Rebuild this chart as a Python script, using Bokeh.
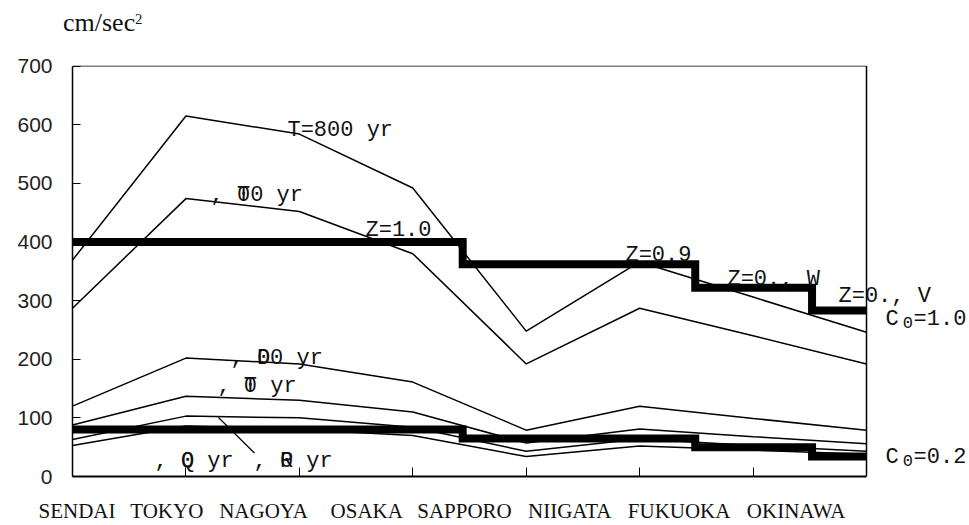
from bokeh.plotting import figure
from bokeh.models import Range1d, FixedTicker, Label, Div
from bokeh.layouts import column
from bokeh.embed import file_html
from bokeh.resources import INLINE

# --- data -----------------------------------------------------------------
cities = ["SENDAI", "TOKYO", "NAGOYA", "OSAKA", "SAPPORO", "NIIGATA", "FUKUOKA", "OKINAWA"]

# peak ground acceleration (cm/sec^2) for several return periods
pga_t800 = [369, 615, 584, 492, 248, 366, 306, 246]
pga_t500 = [287, 474, 452, 380, 192, 287, 240, 192]
pga_t100 = [120, 202, 192, 161, 79, 120, 99, 79]
pga_t50 = [88, 137, 130, 110, 57, 81, 68, 56]
pga_t20 = [63, 103, 100, 84, 43, 64, 53, 43]
pga_t10 = [53, 86, 80, 70, 34, 52, 45, 38]

# seismic zone factor levels (C0 = 1.0 and C0 = 0.2) and zone borders
zone_edges = [0, 3.44, 5.49, 6.52, 7]
zone_c10 = [400, 362, 322, 283]
zone_c02 = [80, 65, 50, 34]

y_ticks = [0, 100, 200, 300, 400, 500, 600, 700]

# --- layout constants ---------------------------------------------------------
X_MAX = 7            # last city
Y_MAX = 700          # top of the value scale
X_VIEW = 7.908       # extra room on the right for the C0 labels
Y_VIEW = 701         # keeps the grey top edge fully inside the frame
city_label_x = [0.040, 0.831, 1.684, 2.594, 3.456, 4.384, 5.348, 6.380]

# --- unit heading ------------------------------------------------------------
unit = Div(
    text=('<div style="margin:0;padding:8px 0 0 63px;font-family:\'Liberation Serif\';'
          'font-size:26px;line-height:30px;color:#111111;white-space:nowrap">'
          'cm/sec<span style="font-size:14px;vertical-align:7px;line-height:0">2</span></div>'),
    width=969, height=50, margin=0)

# --- figure ---------------------------------------------------------------
p = figure(width=969, height=475, x_range=Range1d(0, X_VIEW), y_range=Range1d(0, Y_VIEW),
           output_backend="svg", toolbar_location=None, margin=0,
           min_border_left=72, min_border_right=0, min_border_top=15,
           min_border_bottom=49)
p.outline_line_color = None
p.grid.visible = False
p.background_fill_color = "white"
p.border_fill_color = "white"

xs = list(range(len(cities)))

# bottom axis: city names, with small inward ticks at the city boundaries
p.xaxis.ticker = FixedTicker(ticks=city_label_x, minor_ticks=xs[1:-1])
p.xaxis.major_label_overrides = {cx: name for cx, name in zip(city_label_x, cities)}
p.xaxis.bounds = (0, X_MAX)
p.xaxis.major_tick_in = 0
p.xaxis.major_tick_out = 0
p.xaxis.minor_tick_in = 9
p.xaxis.minor_tick_out = 0
p.xaxis.minor_tick_line_color = "black"
p.xaxis.axis_line_width = 2
p.xaxis.axis_line_color = "black"
p.xaxis.major_label_standoff = 22
p.xaxis.major_label_text_font = "Liberation Serif"
p.xaxis.major_label_text_font_size = "21px"
p.xaxis.major_label_text_color = "#111111"

p.yaxis.ticker = FixedTicker(ticks=y_ticks)
p.yaxis.bounds = (0, Y_MAX)
p.yaxis.major_tick_in = 8
p.yaxis.major_tick_out = 0
p.yaxis.minor_tick_line_color = None
p.yaxis.axis_line_width = 1.5
p.yaxis.axis_line_color = "black"
p.yaxis.major_tick_line_color = "black"
p.yaxis.major_label_standoff = 20
p.yaxis.major_label_text_font = "Liberation Sans"
p.yaxis.major_label_text_font_size = "21px"
p.yaxis.major_label_text_color = "#222222"

# frame: grey top edge and black right edge of the value area
p.segment(x0=[0], y0=[Y_MAX], x1=[X_MAX], y1=[Y_MAX], line_color="#808080", line_width=2)
p.segment(x0=[X_MAX], y0=[0], x1=[X_MAX], y1=[Y_MAX], line_color="black", line_width=1.5)

# --- return-period curves ---------------------------------------------------
for series in (pga_t800, pga_t500, pga_t100, pga_t50, pga_t20, pga_t10):
    p.line(xs, series, line_color="black", line_width=1.5)

# --- zone factor steps ---------------------------------------------------------
def step_coords(edges, levels):
    sx, sy = [], []
    for i, v in enumerate(levels):
        sx += [edges[i], edges[i + 1]]
        sy += [v, v]
    return sx, sy

for levels in (zone_c10, zone_c02):
    sx, sy = step_coords(zone_edges, levels)
    p.line(sx, sy, line_color="black", line_width=8, line_join="miter", line_cap="butt")

# leader from the 20-year curve to its label
leader_x = [1.287, 1.604]
leader_y = [100.7, 40.1]
p.line(leader_x, leader_y, line_color="black", line_width=1.2)

# --- text ------------------------------------------------------------------
MONO = "Liberation Mono"
NB = "\u00a0"


def add_text(x, y, text, size="22px"):
    p.add_layout(Label(x=x, y=y, x_units="data", y_units="data", text=text,
                       text_font=MONO, text_font_size=size, text_color="#111111",
                       text_baseline="alphabetic", text_align="left"))


# curve labels (each overstruck character drawn as two layers)
curve_labels = [
    (1.895, 590.7, "T=800 yr", None),
    (1.217, 479.8, "," + NB + "T0 yr", NB * 2 + "0"),
    (1.393, 201.5, "," + NB + "D0 yr", NB * 2 + "0"),
    (1.278, 153.7, "," + NB + "T yr", NB * 2 + "0"),
    (0.723, 26.1, "," + NB + "Q yr", NB * 2 + "0"),
    (1.596, 26.1, "," + NB + "R yr", NB * 2 + "0"),
]
for x, y, t, over in curve_labels:
    add_text(x, y, t)
    if over:
        add_text(x, y, over)

# zone labels
add_text(2.583, 420.0, "Z=1.0")
add_text(4.875, 377.3, "Z=0.9")
add_text(5.774, 336.3, "Z=0., W")
add_text(6.753, 307.3, "Z=0., V")

# base shear coefficient labels, C with subscript 0
for base_y, value in ((268.0, "=1.0"), (32.4, "=0.2")):
    add_text(7.167, base_y, "C")
    add_text(7.320, base_y - 5.5, "0", size="17px")
    add_text(7.415, base_y, value)

layout = column(unit, p, spacing=0, margin=0)
open("out.html", "w").write(file_html(layout, INLINE))
